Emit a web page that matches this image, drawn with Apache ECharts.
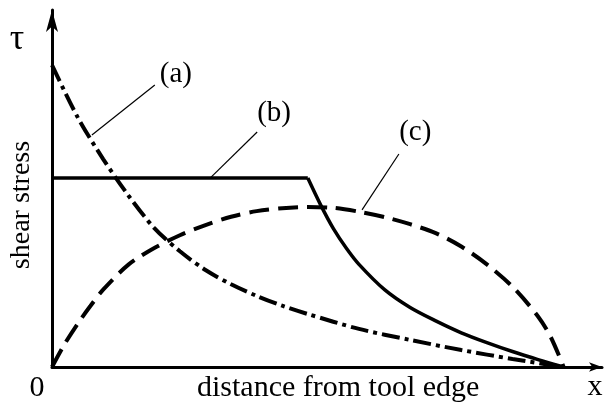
<!DOCTYPE html>
<html>
<head>
<meta charset="utf-8">
<script src="https://cdn.jsdelivr.net/npm/echarts@6/dist/echarts.min.js"></script>
<style>html,body{margin:0;padding:0;background:#fff}#c{width:605px;height:405px}</style>
</head>
<body>
<div id="c"></div>
<script>
// Curve (a): dash-dot, decaying from the tool edge
const curveA = [[0,10.15],[0.5,8.40],[1,6.99],[1.5,5.75],[2,4.67],[2.5,3.89],[3,3.26],[3.5,2.78],[4,2.39],[4.5,2.06],[5,1.78],[6,1.28],[7,0.91],[8,0.57],[9,0.27],[10,0]];
// Curve (b): solid, plateau then decay
const curveBFlat = [[0,6.35],[5,6.35]];
const curveBDecay = [[5,6.35],[5.25,5.45],[5.5,4.65],[5.75,4.0],[6,3.45],[6.5,2.6],[7,2.0],[7.5,1.55],[8,1.15],[8.5,0.82],[9,0.52],[9.5,0.25],[10,0]];
// Curve (c): dashed, rise and fall
const curveC = [[0,0],[0.25,0.78],[0.5,1.45],[0.75,2.05],[1,2.6],[1.5,3.45],[2,4.0],[2.5,4.43],[3,4.77],[3.5,5.05],[4,5.24],[4.5,5.34],[5,5.38],[5.5,5.35],[6,5.22],[6.5,5.04],[7,4.80],[7.5,4.50],[8,4.05],[8.5,3.45],[9,2.70],[9.5,1.70],[9.75,1.0],[10,0]];
// Annotation labels and leader lines
const labelNames = ['(a)','(b)','(c)'];
const labelPos = [[2.42,9.82],[4.34,8.54],[7.10,7.90]];
const leaders = [[[0.78,7.80],[2.01,9.48]],[[3.09,6.35],[4.01,7.90]],[[6.06,5.28],[6.78,7.16]]];

const FONT = '"Liberation Serif","Times New Roman",serif';
const chart = echarts.init(document.getElementById('c'), null, {renderer:'canvas'});
const lineBase = {type:'line', showSymbol:false, symbol:'none', animation:false, z:3};
chart.setOption({
  animation:false,
  backgroundColor:'#fff',
  grid:{left:52, right:3, top:10, bottom:38},
  xAxis:{type:'value', min:0, max:10.75,
    axisLine:{show:true, onZero:true, symbol:['none','arrow'], symbolSize:[7,13], lineStyle:{color:'#000', width:3}},
    axisTick:{show:false}, axisLabel:{show:false}, splitLine:{show:false}},
  yAxis:{type:'value', min:0, max:12,
    axisLine:{show:true, onZero:true, symbol:['none','arrow'], symbolSize:[9,22], lineStyle:{color:'#000', width:3}},
    axisTick:{show:false}, axisLabel:{show:false}, splitLine:{show:false}},
  series:[
    Object.assign({}, lineBase, {name:'a', data:curveA, smooth:0.3,
      lineStyle:{color:'#000', width:4, type:[18,5,4,5], cap:'butt'}}),
    Object.assign({}, lineBase, {name:'b1', data:curveBFlat,
      lineStyle:{color:'#000', width:3.5}}),
    Object.assign({}, lineBase, {name:'b2', data:curveBDecay, smooth:0.3,
      lineStyle:{color:'#000', width:3.5}}),
    Object.assign({}, lineBase, {name:'c', data:curveC, smooth:0.3,
      lineStyle:{color:'#000', width:4, type:[20,9], cap:'butt'}}),
    {type:'lines', coordinateSystem:'cartesian2d', animation:false, z:4,
      lineStyle:{color:'#000', width:1.2, opacity:1},
      data: leaders.map(c => ({coords:c}))},
    {type:'scatter', symbolSize:0, animation:false, z:5,
      itemStyle:{opacity:1, color:'#000'},
      data: labelPos.map((p,i) => ({value:p, name:labelNames[i]})),
      label:{show:true, position:'inside', formatter:'{b}', color:'#000', opacity:1, textBorderWidth:0, fontFamily:FONT, fontSize:29}}
  ],
  graphic:[
    {type:'text', x:17, y:40, style:{text:'τ', fontFamily:FONT, fontSize:36, fill:'#000', textAlign:'center', textVerticalAlign:'middle'}},
    {type:'text', x:22, y:205, rotation:Math.PI/2, style:{text:'shear stress', fontFamily:FONT, fontSize:28, fill:'#000', textAlign:'center', textVerticalAlign:'middle'}},
    {type:'text', x:37, y:388, style:{text:'0', fontFamily:FONT, fontSize:30, fill:'#000', textAlign:'center', textVerticalAlign:'middle'}},
    {type:'text', x:595, y:387, style:{text:'x', fontFamily:FONT, fontSize:30, fill:'#000', textAlign:'center', textVerticalAlign:'middle'}},
    {type:'text', x:197, y:388, style:{text:'distance from tool edge', fontFamily:FONT, fontSize:30, fill:'#000', textAlign:'left', textVerticalAlign:'middle'}}
  ]
});
</script>
</body>
</html>
